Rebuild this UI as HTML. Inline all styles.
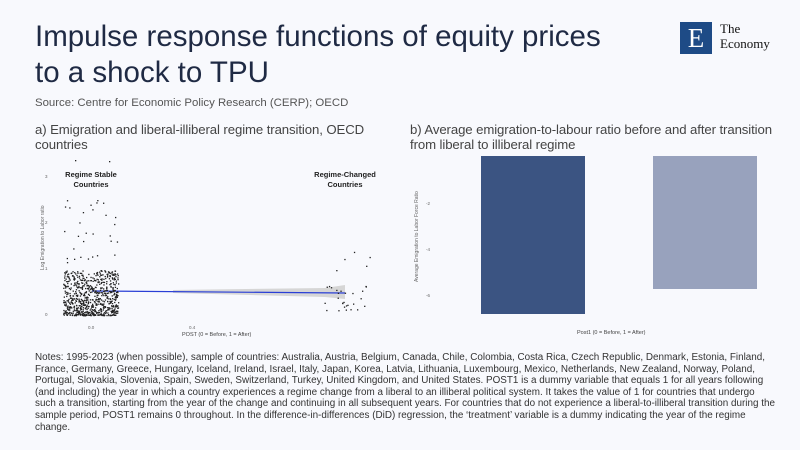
<!DOCTYPE html>
<html><head><meta charset="utf-8"><style>
body{margin:0;background:#f8f9fd;font-family:"Liberation Sans",sans-serif;}
#w{position:relative;width:800px;height:450px;overflow:hidden;background:#f8f9fd;}
.t{position:absolute;left:35px;top:19px;font-size:29.5px;line-height:36px;color:#1f2a44;}
.src{position:absolute;left:35px;top:97px;font-size:11.4px;color:#555;}
.sub{position:absolute;font-size:13.2px;line-height:15px;color:#444;letter-spacing:-0.1px}
.notes{position:absolute;left:35px;top:352px;width:742px;font-size:9.9px;line-height:11.6px;color:#333;}
</style></head><body><div id="w">
<div class="t">Impulse response functions of equity prices<br>to a shock to TPU</div>
<div class="src">Source: Centre for Economic Policy Research (CERP); OECD</div>
<div class="sub" style="left:35px;top:122px;width:380px">a) Emigration and liberal-illiberal regime transition, OECD<br>countries</div>
<div class="sub" style="left:410px;top:122px;width:390px;white-space:nowrap">b) Average emigration-to-labour ratio before and after transition<br>from liberal to illiberal regime</div>
<div style="position:absolute;left:680px;top:22px;width:32px;height:32px;background:#1e4b86;color:#fff;font:27px 'Liberation Serif',serif;text-align:center;line-height:33px">E</div>
<div style="position:absolute;left:720px;top:21px;font:13px/15px 'Liberation Serif',serif;color:#111">The<br>Economy</div>
<svg style="position:absolute;left:0;top:0" width="800" height="450" id="s">
<g font-family="Liberation Sans" fill="#666" font-size="4.5">
<text x="45" y="178">3</text><text x="45" y="224">2</text><text x="45" y="270">1</text><text x="45" y="316">0</text>
<text x="88" y="329">0.0</text><text x="189" y="329">0.4</text>
<text x="182" y="336" font-size="5.5" fill="#444">POST (0 = Before, 1 = After)</text>
<text transform="translate(44,270) rotate(-90)" font-size="5">Log Emigration to Labor ratio</text>
<text x="426" y="205">-2</text><text x="426" y="251">-4</text><text x="426" y="297">-6</text>
<text x="577" y="334" font-size="5.5" fill="#444">Post1 (0 = Before, 1 = After)</text>
<text transform="translate(418,282) rotate(-90)" font-size="5">Average Emigration to Labor Force Ratio</text>
</g>
<g font-family="Liberation Sans" font-weight="bold" font-size="7.5" fill="#222" text-anchor="middle">
<text x="91" y="177">Regime Stable</text><text x="91" y="187">Countries</text>
<text x="345" y="177">Regime-Changed</text><text x="345" y="187">Countries</text>
</g>
<path d="M173,290 L325,288 L345,285 L345,299 L325,297 L173,293Z" fill="#d6d6d6"/>
<line x1="92" y1="291" x2="345" y2="293" stroke="#2a3fd6" stroke-width="1.2"/>
<g id="pts" fill="#222"></g>
<rect x="481" y="156" width="104" height="158" fill="#3b5482"/>
<rect x="653" y="156" width="104" height="133" fill="#98a2bd"/>
</svg>
<div class="notes">Notes: 1995-2023 (when possible), sample of countries: Australia, Austria, Belgium, Canada, Chile, Colombia, Costa Rica, Czech Republic, Denmark, Estonia, Finland, France, Germany, Greece, Hungary, Iceland, Ireland, Israel, Italy, Japan, Korea, Latvia, Lithuania, Luxembourg, Mexico, Netherlands, New Zealand, Norway, Poland, Portugal, Slovakia, Slovenia, Spain, Sweden, Switzerland, Turkey, United Kingdom, and United States. POST1 is a dummy variable that equals 1 for all years following (and including) the year in which a country experiences a regime change from a liberal to an illiberal political system. It takes the value of 1 for countries that undergo such a transition, starting from the year of the change and continuing in all subsequent years. For countries that do not experience a liberal-to-illiberal transition during the sample period, POST1 remains 0 throughout. In the difference-in-differences (DiD) regression, the ‘treatment’ variable is a dummy indicating the year of the regime change.</div>
</div>
<script>
var s=12345;function r(){s=(s*16807)%2147483647;return s/2147483647;}
var g=document.getElementById('pts'),h='';
for(var i=0;i<750;i++){var x=63+r()*55,y=315-Math.pow(r(),1.5)*45;h+='<rect x="'+x.toFixed(1)+'" y="'+y.toFixed(1)+'" width="1.3" height="1.3"/>';}
for(var i=0;i<30;i++){var x=63+r()*55,y=262-Math.pow(r(),1.5)*65;h+='<rect x="'+x.toFixed(1)+'" y="'+y.toFixed(1)+'" width="1.3" height="1.3"/>';}
h+='<rect x="75" y="160" width="1.3" height="1.3"/><rect x="109" y="161" width="1.3" height="1.3"/>';
for(var i=0;i<32;i++){var x=322+r()*50,y=283+r()*28;if(i<5)y=248+r()*35;h+='<rect x="'+x.toFixed(1)+'" y="'+y.toFixed(1)+'" width="1.3" height="1.3"/>';}
g.innerHTML=h;
</script>
</body></html>
